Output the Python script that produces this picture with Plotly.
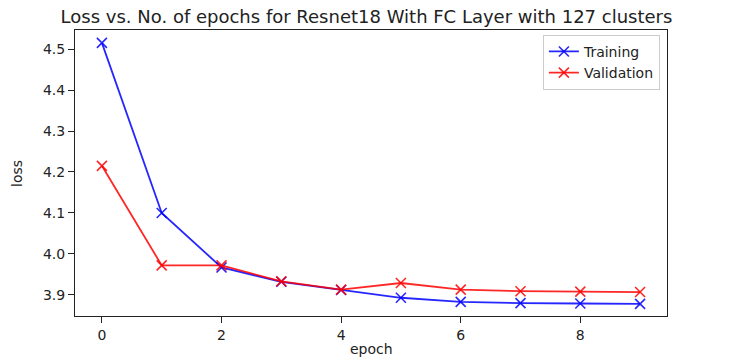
import plotly.graph_objects as go

# Per-epoch loss values
epochs = [0, 1, 2, 3, 4, 5, 6, 7, 8, 9]
train_loss = [4.515, 4.100, 3.967, 3.932, 3.912, 3.893, 3.883, 3.880, 3.879, 3.878]
val_loss = [4.215, 3.972, 3.972, 3.933, 3.913, 3.929, 3.913, 3.909, 3.908, 3.907]
x_ticks = [0, 2, 4, 6, 8]
y_ticks = [3.9, 4.0, 4.1, 4.2, 4.3, 4.4, 4.5]

FONT = "DejaVu Sans"
TEXT = "#222222"

fig = go.Figure()
fig.add_trace(go.Scatter(
    x=epochs, y=train_loss, mode="lines+markers", name="Training",
    line=dict(color="rgba(0,0,255,0.85)", width=1.8),
    marker=dict(symbol="x-thin", size=10, line=dict(color="rgba(0,0,255,0.85)", width=1.6)),
))
fig.add_trace(go.Scatter(
    x=epochs, y=val_loss, mode="lines+markers", name="Validation",
    line=dict(color="rgba(255,0,0,0.85)", width=1.8),
    marker=dict(symbol="x-thin", size=10, line=dict(color="rgba(255,0,0,0.85)", width=1.6)),
))

axis_common = dict(
    showline=True, linecolor="#222222", linewidth=1, mirror=True,
    ticks="outside", ticklen=6, tickcolor="#222222", showgrid=False, zeroline=False,
    automargin=False,
    tickfont=dict(family=FONT, size=14, color=TEXT),
)

fig.update_layout(
    width=733, height=360,
    margin=dict(l=75, r=66, t=30, b=44),
    paper_bgcolor="white", plot_bgcolor="white",
    title=dict(
        text="Loss vs. No. of epochs for Resnet18 With FC Layer with 127 clusters",
        x=0.5, xanchor="center", y=0.953, yanchor="middle",
        font=dict(family=FONT, size=18, color=TEXT),
    ),
    xaxis=dict(range=[-0.45, 9.45], tickvals=x_ticks, **axis_common),
    yaxis=dict(range=[3.8485, 4.5465], tickvals=y_ticks, tickformat=".1f", **axis_common),
    legend=dict(
        x=0.988, y=0.983, xanchor="right", yanchor="top",
        bgcolor="rgba(255,255,255,0.8)", bordercolor="#cccccc", borderwidth=1,
        font=dict(family=FONT, size=14, color=TEXT),
        tracegroupgap=0, itemwidth=30,
    ),
)

# Axis labels placed in paper coordinates below / left of the plot area
fig.add_annotation(text="epoch", xref="paper", yref="paper", x=0.5, y=-0.115,
                   xanchor="center", yanchor="middle", showarrow=False,
                   font=dict(family=FONT, size=14, color=TEXT))
fig.add_annotation(text="loss", xref="paper", yref="paper", x=-0.098, y=0.5,
                   xanchor="center", yanchor="middle", showarrow=False, textangle=-90,
                   font=dict(family=FONT, size=14, color=TEXT))

fig.write_html("out.html")
